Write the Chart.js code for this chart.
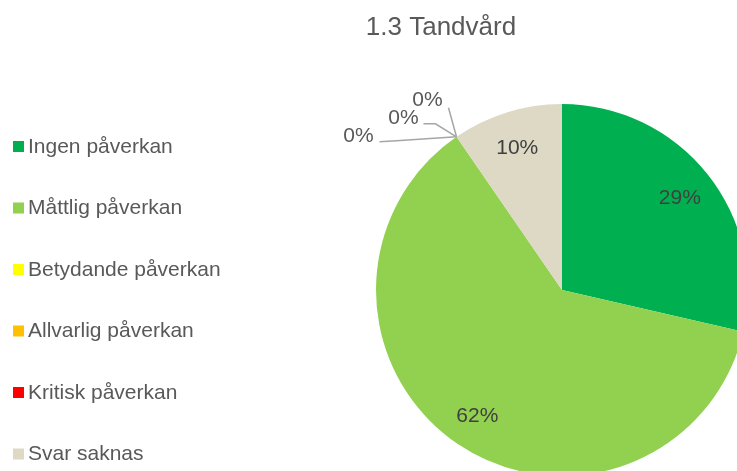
<!DOCTYPE html>
<html>
<head>
<meta charset="utf-8">
<script src="https://cdn.jsdelivr.net/npm/chart.js@4"></script>
<style>
  html, body { margin: 0; padding: 0; background: #fff; width: 737px; height: 471px; overflow: hidden; }
  #wrap { position: relative; width: 737px; height: 471px; overflow: hidden; }
  #pieCanvas { position: absolute; left: 0; top: 0; }
</style>
</head>
<body>
<div id="wrap"><canvas id="pieCanvas" width="760" height="480"></canvas></div>
<script>
// chart data
const chartTitle = '1.3 Tandvård';
const categories = ['Ingen påverkan', 'Måttlig påverkan', 'Betydande påverkan', 'Allvarlig påverkan', 'Kritisk påverkan', 'Svar saknas'];
const shares = [28.6, 61.8, 0, 0, 0, 9.6];
const sliceColors = ['#00B050', '#92D050', '#FFFF00', '#FFC000', '#FF0000', '#DDD9C4'];

const FONT = '"Liberation Sans", Arial, sans-serif';

// title, legend and data labels drawn on top of the pie
const decorations = {
    id: 'decorations',
    afterDraw(chart) {
        const ctx = chart.ctx;
        ctx.save();

        // title
        ctx.fillStyle = '#595959';
        ctx.font = '26px ' + FONT;
        ctx.textAlign = 'center';
        ctx.textBaseline = 'middle';
        ctx.fillText(chartTitle, 441, 28);

        // legend on the left
        ctx.font = '21px ' + FONT;
        ctx.textAlign = 'left';
        categories.forEach(function (name, i) {
            const y = 146 + i * 61.5;
            ctx.fillStyle = sliceColors[i];
            ctx.fillRect(13, y - 5, 11, 11);
            ctx.fillStyle = '#595959';
            ctx.fillText(name, 28, y + 1);
        });

        // data labels
        const arcs = chart.getDatasetMeta(0).data;
        // offsets for the stacked 0% labels: label centre and leader points
        const zeroLabels = [
            { tx: -98, ty: -1, line: [[-60, 4], [-77, 5]] },
            { tx: -53, ty: -19, line: [[-21, -13], [-33, -13]] },
            { tx: -29, ty: -37, line: [[-8, -29]] }
        ];
        let z = 0;
        arcs.forEach(function (arc, i) {
            const p = arc.getProps(['x', 'y', 'startAngle', 'endAngle', 'outerRadius'], true);
            const txt = Math.round(shares[i]) + '%';
            if (shares[i] > 0) {
                const mid = (p.startAngle + p.endAngle) / 2;
                const r = p.outerRadius * 0.81;
                ctx.fillStyle = '#404040';
                ctx.textAlign = 'center';
                ctx.fillText(txt, p.x + Math.cos(mid) * r, p.y + Math.sin(mid) * r + 2);
            } else {
                const px = p.x + Math.cos(p.startAngle) * p.outerRadius;
                const py = p.y + Math.sin(p.startAngle) * p.outerRadius;
                const zl = zeroLabels[z++];
                ctx.strokeStyle = '#A6A6A6';
                ctx.lineWidth = 1.5;
                ctx.beginPath();
                ctx.moveTo(px, py);
                zl.line.forEach(function (pt) { ctx.lineTo(px + pt[0], py + pt[1]); });
                ctx.stroke();
                ctx.fillStyle = '#595959';
                ctx.textAlign = 'center';
                ctx.fillText(txt, px + zl.tx, py + zl.ty);
            }
        });
        ctx.restore();
    }
};

const ctx = document.getElementById('pieCanvas').getContext('2d');
const myChart = new Chart(ctx, {
    type: 'pie',
    data: {
        labels: categories,
        datasets: [{
            data: shares,
            backgroundColor: sliceColors,
            borderWidth: 0,
            hoverOffset: 0
        }]
    },
    options: {
        responsive: false,
        animation: false,
        devicePixelRatio: 1,
        layout: {
            padding: { left: 376, right: 12, top: 104, bottom: 4 }
        },
        plugins: {
            legend: { display: false },
            title: { display: false },
            tooltip: { enabled: false }
        }
    },
    plugins: [decorations]
});
</script>
</body>
</html>
